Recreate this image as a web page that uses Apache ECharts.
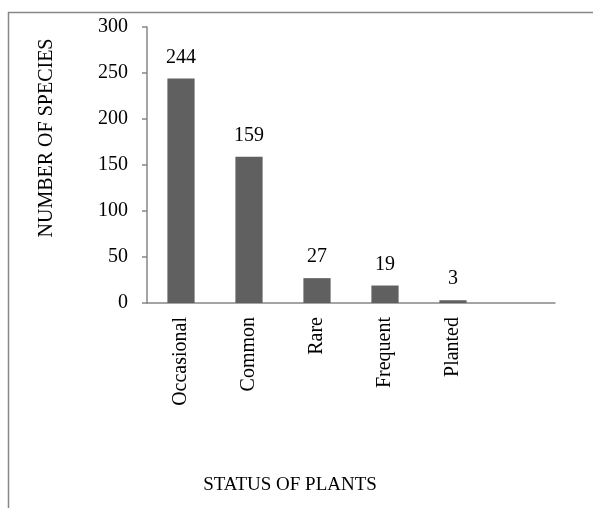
<!DOCTYPE html>
<html><head><meta charset="utf-8">
<script src="https://cdn.jsdelivr.net/npm/echarts@6/dist/echarts.min.js"></script>
<style>html,body{margin:0;padding:0;background:#fff}#c{width:593px;height:508px}</style>
</head><body><div id="c"></div>
<script>
const categories = ['Occasional', 'Common', 'Rare', 'Frequent', 'Planted', ''];
const speciesCounts = [244, 159, 27, 19, 3, null];
const yTicks = { min: 0, max: 300, interval: 50 };
const xTitle = 'STATUS OF PLANTS';
const yTitle = 'NUMBER OF SPECIES';

const font = 'Liberation Serif';
const chart = echarts.init(document.getElementById('c'));
chart.setOption({
  animation: false,
  backgroundColor: '#fff',
  grid: { left: 147, right: 38, top: 27, bottom: 205, containLabel: false },
  xAxis: {
    type: 'category', data: categories,
    axisLine: { lineStyle: { color: '#878787', width: 1.5 } },
    axisTick: { show: false },
    axisLabel: { rotate: 90, margin: 14, color: '#000', fontFamily: font, fontSize: 20, interval: 0 }
  },
  yAxis: {
    type: 'value', min: yTicks.min, max: yTicks.max, interval: yTicks.interval,
    splitLine: { show: false },
    axisLine: { show: true, lineStyle: { color: '#878787', width: 1.5 } },
    axisTick: { show: true, length: 5, lineStyle: { color: '#878787', width: 1.5 } },
    axisLabel: { margin: 19, color: '#000', fontFamily: font, fontSize: 20 }
  },
  series: [{
    type: 'bar', data: speciesCounts, barWidth: '40%',
    itemStyle: { color: '#606060' },
    label: { show: true, position: 'top', distance: 11, color: '#000', fontFamily: font, fontSize: 20 }
  }],
  graphic: [
    { type: 'polyline', shape: { points: [[8.5, 508], [8.5, 12.5], [593, 12.5]] }, style: { stroke: '#878787', lineWidth: 1.5, fill: null } },
    { type: 'text', x: 290, y: 485, style: { text: xTitle, font: '19px "Liberation Serif"', fill: '#000', textAlign: 'center', textVerticalAlign: 'middle' } },
    { type: 'text', x: 47, y: 138, rotation: Math.PI / 2, style: { text: yTitle, font: '20px "Liberation Serif"', fill: '#000', textAlign: 'center', textVerticalAlign: 'middle' } }
  ]
});
</script></body></html>
